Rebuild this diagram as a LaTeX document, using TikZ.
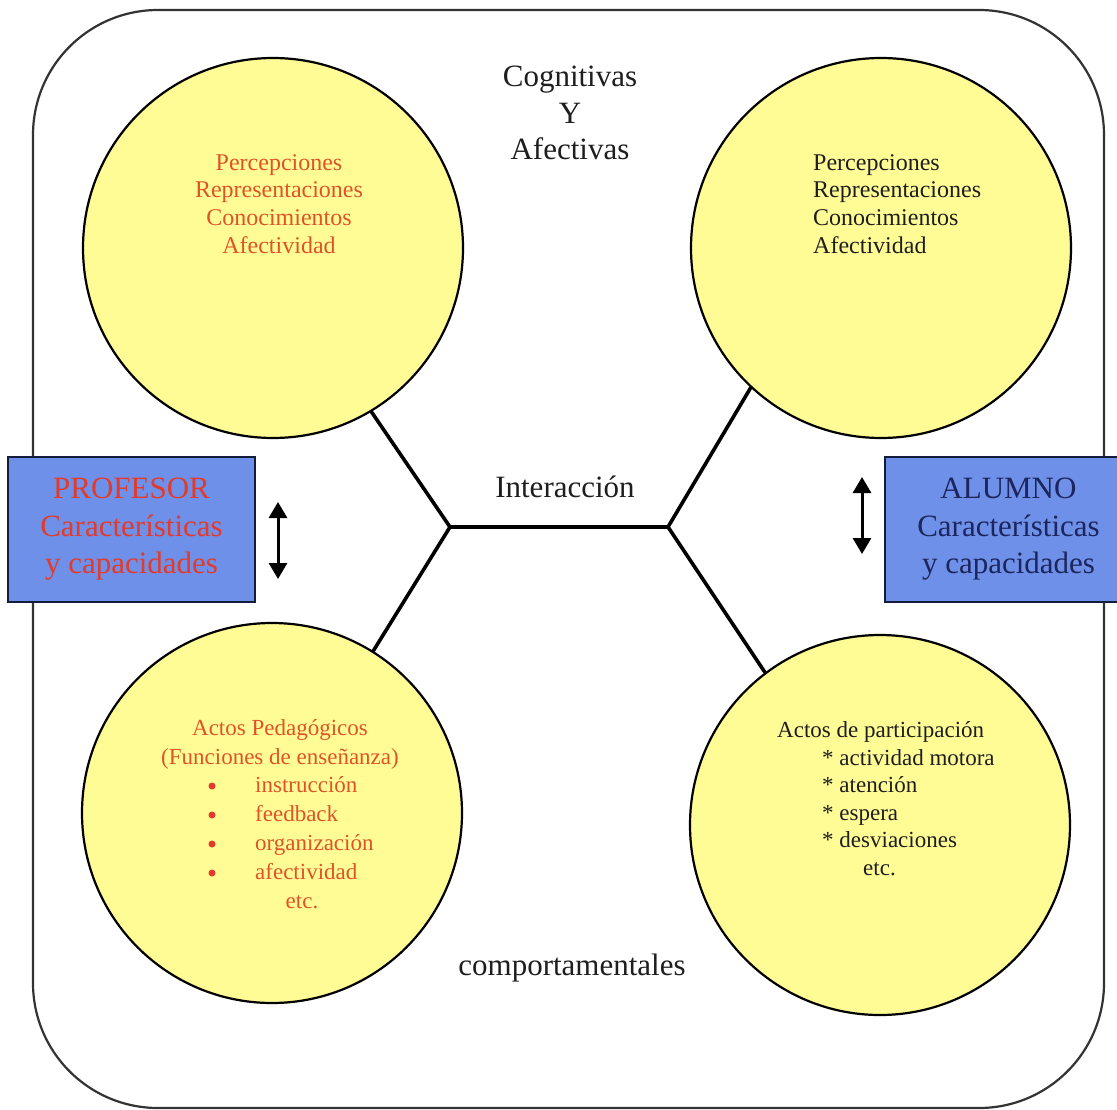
\documentclass[tikz,border=0pt]{standalone}
\usepackage{fontspec}
\setmainfont{Liberation Serif}
\usetikzlibrary{arrows.meta}
\definecolor{bubblefill}{RGB}{255,252,150}
\definecolor{boxfill}{RGB}{110,144,232}
\definecolor{boxline}{RGB}{20,28,60}
\definecolor{redtext}{RGB}{226,58,44}
\definecolor{bubred}{RGB}{222,84,40}
\definecolor{navytext}{RGB}{28,38,92}
\definecolor{darktext}{RGB}{30,30,30}
\begin{document}
\begin{tikzpicture}[x=1pt,y=-1pt,
  frame/.style={draw=black!80, line width=2.2pt, rounded corners=125pt},
  bubble/.style={circle, draw=black, line width=2.2pt, fill=bubblefill, minimum size=380pt, inner sep=0pt},
  infobox/.style={rectangle, draw=boxline, line width=2.2pt, fill=boxfill, minimum width=247pt, minimum height=145pt, align=center, inner sep=0pt, font=\fontsize{31}{37.5}\selectfont},
  link/.style={line width=3.6pt, black, line cap=round},
  swap/.style={{Triangle[width=18pt,length=16pt]}-{Triangle[width=18pt,length=16pt]}, line width=3pt, black},
  biglabel/.style={font=\fontsize{31}{36.5}\selectfont, align=center, inner sep=0pt, text=darktext},
  bubtext/.style={font=\fontsize{24}{27.7}\selectfont, inner sep=0pt},
  acttext/.style={font=\fontsize{23}{28}\selectfont, inner sep=0pt},
  dot/.style={circle, fill=redtext, inner sep=0pt, minimum size=7pt}
]
\useasboundingbox (0,0) rectangle (1117,1110);
\clip (0,0) rectangle (1117,1110);
\fill[white] (0,0) rectangle (1117,1110);

% outer frame
\draw[frame] (33,10) rectangle (1104,1108);

% the four circles
\node[bubble] (TL) at (273,248) {};
\node[bubble] (TR) at (881,248) {};
\node[bubble] (BL) at (272,813) {};
\node[bubble] (BR) at (880,825) {};

% hexagonal interaction link
\coordinate (hubL) at (450,527);
\coordinate (hubR) at (668,527);
\draw[link] (TL.-59) -- (hubL) -- (hubR) -- (TR.227);
\draw[link] (BL.58) -- (hubL);
\draw[link] (BR.127) -- (hubR);

% side boxes
\node[infobox, text=redtext] (prof) at (131.5,529.5) {PROFESOR\\Características\\y capacidades};
\node[infobox, text=navytext] (alum) at (1008.5,529.5) {ALUMNO\\Características\\y capacidades};

% double arrows
\coordinate (pa) at (278,502);
\coordinate (pb) at (278,579);
\coordinate (aa) at (862,477);
\coordinate (ab) at (862,554);
\draw[swap] (pa) -- (pb);
\draw[swap] (aa) -- (ab);

% labels
\node[biglabel] (cog) at (570,113) {Cognitivas\\Y\\Afectivas};
\node[biglabel] (inter) at (565,487) {Interacción};
\node[biglabel] (comp) at (572,968) {comportamentales};

% circle contents
\node[bubtext, align=center, text=bubred] (tlt) at (279,204)
  {Percepciones\\Representaciones\\Conocimientos\\Afectividad};
\node[bubtext, align=left, anchor=west, text=darktext] (trt) at (813,204)
  {Percepciones\\Representaciones\\Conocimientos\\Afectividad};

% teacher acts
\begin{scope}[every node/.style={acttext, text=bubred}]
\node[anchor=base] (bl1) at (280,735) {Actos Pedagógicos};
\node[anchor=base] (bl2) at (280,764) {(Funciones de enseñanza)};
\node[anchor=base west] (bl3) at (255,792) {instrucción};
\node[anchor=base west] (bl4) at (255,821) {feedback};
\node[anchor=base west] (bl5) at (255,850) {organización};
\node[anchor=base west] (bl6) at (255,879) {afectividad};
\node[anchor=base] (bl7) at (302,908) {etc.};
\end{scope}
\node[dot] (d1) at (212,786) {};
\node[dot] (d2) at (212,815) {};
\node[dot] (d3) at (212,844) {};
\node[dot] (d4) at (212,873) {};

% student acts
\begin{scope}[every node/.style={acttext, text=darktext, anchor=base west}]
\node (br1) at (777,737) {Actos de participación};
\node (br2) at (822,765) {* actividad motora};
\node (br3) at (822,792) {* atención};
\node (br4) at (822,820) {* espera};
\node (br5) at (822,847) {* desviaciones};
\node (br6) at (863,875) {etc.};
\end{scope}
\end{tikzpicture}
\end{document}
